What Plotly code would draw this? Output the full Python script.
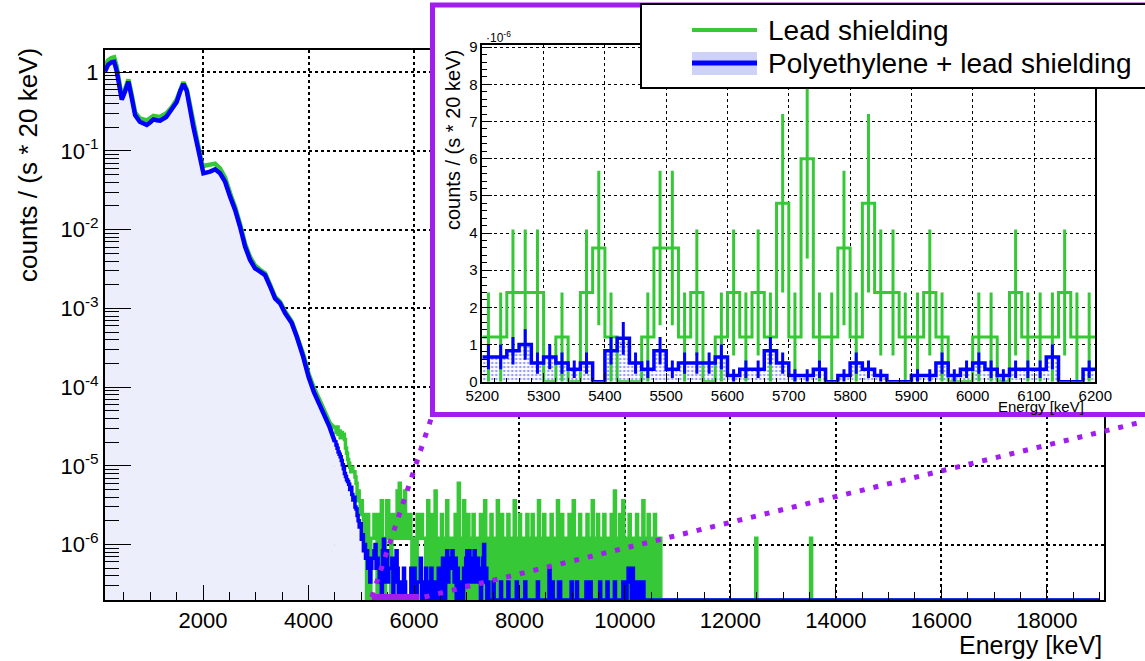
import numpy as np
import plotly.graph_objects as go

W, H = 1145, 661
FONT = "Liberation Sans"
GREEN = "#36c836"
BLUE = "#0000ff"
PURPLE = "#a21ef0"
LAVENDER = "#eceffb"

# ---------------- data ----------------
# smooth low-energy part of both spectra, counts / (s * 20 keV)
smooth_energy = [140, 200, 260, 313, 360, 420, 458, 520, 584, 640, 711, 800, 932, 1000, 1058,
                 1120, 1185, 1300, 1406, 1500, 1570, 1627, 1690, 1722, 1817, 1911, 1975, 2006,
                 2133, 2228, 2322, 2417, 2512, 2607, 2701, 2796, 2891, 2986, 3081, 3175, 3270,
                 3365, 3460, 3555, 3681, 3776, 3900, 4000, 4100, 4200, 4300, 4400, 4500]
smooth_lead = [1.20, 1.42, 1.52, 1.55, 1.20, 0.63, 0.48, 0.61, 0.81, 0.54, 0.31, 0.26, 0.245,
               0.262, 0.28, 0.275, 0.272, 0.30, 0.36, 0.45, 0.62, 0.75, 0.61, 0.47, 0.22, 0.115,
               0.070, 0.0645, 0.066, 0.069, 0.060, 0.046, 0.029, 0.0195, 0.0118, 0.0066, 0.0045,
               0.0035, 0.0031, 0.0028, 0.0020, 0.0014, 0.00121, 0.00091, 0.00068, 0.00046,
               0.00026, 0.000148, 0.000097, 0.000070, 0.000048, 0.000035, 0.000030]
smooth_poly = [1.02, 1.25, 1.34, 1.36, 1.05, 0.58, 0.45, 0.57, 0.76, 0.50, 0.286, 0.235, 0.214,
               0.232, 0.252, 0.246, 0.243, 0.27, 0.332, 0.42, 0.58, 0.71, 0.58, 0.44, 0.20, 0.103,
               0.060, 0.052, 0.0546, 0.0585, 0.052, 0.0407, 0.0263, 0.0178, 0.0109, 0.0061,
               0.00412, 0.00323, 0.00293, 0.00265, 0.0019, 0.00134, 0.00116, 0.00087, 0.00065,
               0.00044, 0.00024, 0.000135, 0.000087, 0.000062, 0.000044, 0.000031, 0.000020]

BIN = 20                 # keV per bin
LEAD_UNIT = 1.2e-6       # one count, lead shielding run
POLY_UNIT = 1e-6 / 6     # one count, polyethylene + lead run

# binned counts (20 keV bins)
lead_counts_4500_5200 = [25, 22, 26, 21, 23, 19, 22, 20, 21, 18, 14, 12, 10, 9, 8, 7, 8, 7, 7, 6,
                         5, 3, 4, 3, 2, 3, 2, 1, 2, 1, 0, 2, 1, 0, 1]
poly_counts_4500_5200 = [120, 110, 100, 90, 84, 78, 70, 62, 55, 48, 44, 40, 38, 35, 30, 32, 26,
                         22, 24, 18, 17, 14, 12, 10, 11, 7, 8, 5, 6, 4, 5, 3, 4, 2, 3]
lead_counts_5200_6200 = [1, 1, 2, 2, 2, 0, 1, 0, 2, 3, 1, 0, 0, 1, 3, 3, 1, 2, 0, 1, 2, 1, 2, 1, 4,
                         1, 5, 1, 1, 3, 1, 4, 2, 2, 1, 1, 2, 1, 0, 0, 1, 1, 0, 2, 1, 1, 1, 2, 1, 1]
poly_counts_5200_6200 = [4, 4, 5, 6, 3, 4, 3, 2, 3, 0, 5, 7, 3, 2, 5, 2, 3, 3, 3, 4, 1, 2, 2, 5, 3,
                         1, 1, 2, 0, 1, 3, 2, 1, 0, 0, 1, 1, 3, 1, 2, 3, 2, 1, 2, 2, 2, 4, 0, 0, 2]
lead_counts_6200_10700 = [
    1, 0, 1, 3, 0, 1, 2, 0, 1, 0, 4, 1, 0, 1, 1, 0, 2, 0, 1, 1, 0, 3, 1, 0, 1,
    0, 1, 1, 0, 2, 1, 0, 5, 1, 0, 1, 0, 3, 1, 0, 1, 2, 0, 1, 1, 0, 2, 1, 0, 1,
    1, 0, 1, 2, 0, 1, 0, 3, 1, 1, 0, 1, 0, 2, 1, 0, 1, 1, 0, 3, 0, 1, 0, 2, 1,
    0, 1, 0, 1, 2, 0, 1, 1, 0, 1, 3, 0, 1, 0, 1, 2, 0, 1, 0, 1, 1, 0, 2, 0, 1,
    1, 0, 2, 1, 0, 1, 0, 1, 3, 0, 1, 1, 0, 2, 0, 1, 0, 1, 1, 0, 2, 1, 0, 1, 0,
    1, 3, 0, 1, 0, 2, 1, 0, 1, 1, 0, 1, 2, 0, 1, 0, 3, 1, 0, 1, 0, 1, 2, 0, 1,
    0, 1, 1, 0, 2, 0, 1, 0, 1, 3, 0, 1, 1, 0, 2, 1, 0, 1, 0, 1, 2, 0, 1, 1, 0,
    1, 0, 2, 1, 0, 4, 1, 0, 1, 0, 2, 1, 0, 3, 1, 0, 1, 1, 0, 2, 0, 1, 0, 1, 1,
    0, 2, 1, 0, 1, 1, 0, 3, 1, 0, 1, 0, 2, 1, 0, 1, 1, 0, 2, 0, 1, 0, 1, 1, 0]
poly_counts_6200_10500 = [
    2, 3, 1, 2, 0, 1, 3, 2, 1, 0, 2, 1, 1, 3, 0, 2, 1, 4, 2, 1, 3, 5, 2, 4, 3,
    4, 5, 3, 2, 4, 1, 3, 2, 0, 1, 2, 1, 3, 2, 4, 5, 2, 5, 3, 4, 2, 4, 5, 3, 2,
    4, 3, 2, 1, 3, 4, 6, 2, 3, 1, 2, 0, 1, 0, 1, 2, 0, 0, 1, 0, 1, 0, 2, 1, 0,
    1, 0, 0, 1, 2, 0, 1, 0, 0, 1, 0, 1, 2, 1, 0, 1, 0, 0, 1, 0, 2, 1, 0, 1, 0,
    1, 0, 0, 1, 0, 1, 0, 2, 1, 0, 1, 1, 0, 0, 0, 1, 0, 1, 3, 1, 0, 2, 0, 1, 0,
    1, 0, 2, 2, 1, 0, 1, 0, 1, 0, 1, 0, 1, 0, 2, 0, 1, 0, 1, 2, 0, 1, 0, 1, 0,
    0, 1, 0, 2, 1, 0, 0, 2, 0, 1, 0, 1, 0, 0, 1, 0, 2, 1, 0, 1, 0, 0, 1, 2, 1,
    0, 1, 1, 0, 1, 2, 0, 1, 0, 0, 1, 0, 1, 2, 2, 1, 0, 2, 3, 2, 3, 1, 3, 2, 0,
    1, 2, 0, 1, 0, 2, 0, 2, 1, 0, 1, 0, 1, 0, 0]
lead_single_count_bins = [12480, 13520]   # keV, one count each

main_xticks_step = 2000
main_yticks = [1e-6, 1e-5, 1e-4, 1e-3, 1e-2, 1e-1, 1]
main_yticktext = ["10<sup>-6</sup>", "10<sup>-5</sup>", "10<sup>-4</sup>", "10<sup>-3</sup>",
                  "10<sup>-2</sup>", "10<sup>-1</sup>", "1"]

legend_labels = ["Lead shielding", "Polyethylene + lead shielding"]

# ---------------- geometry ----------------
X_RANGE = [140, 19090]
LOG_RANGE = [-6.705, 0.283]
YMIN = 10 ** LOG_RANGE[0]
MAIN_PX = (105, 1104.3, 50, 600)      # left, right, top, bottom in px
INSET_PX = (482.3, 1095.3, 45, 381.7)
BOX_PX = (432.5, 1160, 5, 414.5)

def px(x):
    return x / W

def py(y):
    return 1 - y / H

def e2px(e):
    l, r = MAIN_PX[0], MAIN_PX[1]
    return l + (e - X_RANGE[0]) / (X_RANGE[1] - X_RANGE[0]) * (r - l)

# ---------------- build histograms ----------------
START = 4500
END = 19000
edges = np.arange(START, END + BIN, BIN)
nb = len(edges) - 1
lead_n = np.zeros(nb)
poly_n = np.zeros(nb)

def put(arr, start, vals):
    i = (start - START) // BIN
    arr[i:i + len(vals)] = vals

put(lead_n, 4500, lead_counts_4500_5200)
put(lead_n, 5200, lead_counts_5200_6200)
put(lead_n, 6200, lead_counts_6200_10700)
put(poly_n, 4500, poly_counts_4500_5200)
put(poly_n, 5200, poly_counts_5200_6200)
put(poly_n, 6200, poly_counts_6200_10500)
for e in lead_single_count_bins:
    lead_n[(e - START) // BIN] = 1

lead_v = np.maximum(lead_n * LEAD_UNIT, YMIN)
poly_v = np.maximum(poly_n * POLY_UNIT, YMIN)
lead_step = np.append(lead_v, lead_v[-1])
poly_step = np.append(poly_v, poly_v[-1])

fig = go.Figure()
skip = dict(hoverinfo="skip", showlegend=False)

# main: lavender fill under polyethylene spectrum
fig.add_trace(go.Scatter(x=[smooth_energy[0], smooth_energy[-1]], y=[YMIN, YMIN], mode="lines",
                         line=dict(width=0), **skip))
fig.add_trace(go.Scatter(x=smooth_energy, y=np.maximum(smooth_poly, YMIN), mode="lines",
                         line=dict(width=0), fill="tonexty", fillcolor=LAVENDER, **skip))
fig.add_trace(go.Scatter(x=[START, END], y=[YMIN, YMIN], mode="lines", line=dict(width=0), **skip))
fig.add_trace(go.Scatter(x=edges, y=poly_step, mode="lines", line=dict(width=0, shape="hv"),
                         fill="tonexty", fillcolor=LAVENDER, **skip))
# main: lines
fig.add_trace(go.Scatter(x=smooth_energy, y=smooth_lead, mode="lines",
                         line=dict(color=GREEN, width=4.5), **skip))
fig.add_trace(go.Scatter(x=edges, y=lead_step, mode="lines",
                         line=dict(color=GREEN, width=3.5, shape="hv"), **skip))
fig.add_trace(go.Scatter(x=smooth_energy, y=smooth_poly, mode="lines",
                         line=dict(color=BLUE, width=4.5), **skip))
fig.add_trace(go.Scatter(x=edges, y=poly_step, mode="lines",
                         line=dict(color=BLUE, width=3.5, shape="hv"), **skip))

# cover subplot (white background of inset box)
fig.add_trace(go.Scatter(x=[None], y=[None], xaxis="x2", yaxis="y2", **skip))

# inset
in_edges = np.arange(5200, 6200 + BIN, BIN)
in_cent = in_edges[:-1] + BIN / 2
lead_in = np.array(lead_counts_5200_6200, dtype=float)
poly_in = np.array(poly_counts_5200_6200, dtype=float)
lead_in_v = lead_in * LEAD_UNIT * 1e6
poly_in_v = poly_in * POLY_UNIT * 1e6
lead_in_err = np.sqrt(lead_in) * LEAD_UNIT * 1e6
poly_in_err = np.sqrt(poly_in) * POLY_UNIT * 1e6

fig.add_trace(go.Scatter(x=in_edges, y=np.append(poly_in_v, poly_in_v[-1]), mode="lines",
                         line=dict(width=0, shape="hv"), fill="tozeroy",
                         fillcolor="rgba(255,255,255,0)",
                         fillpattern=dict(shape=".", fgcolor="#3344ff", bgcolor="rgba(255,255,255,0)",
                                          size=4, solidity=0.35),
                         xaxis="x3", yaxis="y3", **skip))
fig.add_trace(go.Scatter(x=in_edges, y=np.append(lead_in_v, lead_in_v[-1]), mode="lines",
                         line=dict(color=GREEN, width=3, shape="hv"), xaxis="x3", yaxis="y3", **skip))
m = lead_in > 0
fig.add_trace(go.Scatter(x=in_cent[m], y=lead_in_v[m], mode="markers", marker=dict(size=1, color=GREEN),
                         error_y=dict(type="data", array=lead_in_err[m], color=GREEN, thickness=3, width=0),
                         xaxis="x3", yaxis="y3", **skip))
fig.add_trace(go.Scatter(x=in_edges, y=np.append(poly_in_v, poly_in_v[-1]), mode="lines",
                         line=dict(color=BLUE, width=3.5, shape="hv"), xaxis="x3", yaxis="y3", **skip))
m = poly_in > 0
fig.add_trace(go.Scatter(x=in_cent[m], y=poly_in_v[m], mode="markers", marker=dict(size=1, color=BLUE),
                         error_y=dict(type="data", array=poly_in_err[m], color=BLUE, thickness=3, width=0),
                         xaxis="x3", yaxis="y3", **skip))

axis_common = dict(showline=True, mirror=True, linecolor="black", zeroline=False,
                   gridcolor="black", griddash="dot", showgrid=True, automargin=False,
                   ticks="inside", tickcolor="black")

fig.update_layout(
    width=W, height=H, margin=dict(l=0, r=0, t=0, b=0),
    paper_bgcolor="white", plot_bgcolor="white", showlegend=False,
    font=dict(family=FONT, color="black"),
    xaxis=dict(axis_common, domain=[px(MAIN_PX[0]), px(MAIN_PX[1])], range=X_RANGE, anchor="y",
               tick0=0, dtick=main_xticks_step, tickformat="d", ticklen=15, linewidth=2,
               gridwidth=1.5, tickfont=dict(size=22, family=FONT),
               minor=dict(tick0=0, dtick=500, ticks="inside", ticklen=8, tickcolor="black")),
    yaxis=dict(axis_common, domain=[py(MAIN_PX[3]), py(MAIN_PX[2])], type="log", range=LOG_RANGE,
               anchor="x", tickmode="array", tickvals=main_yticks, ticktext=main_yticktext,
               ticklen=26, linewidth=2, gridwidth=1.5, tickfont=dict(size=22, family=FONT),
               minor=dict(dtick="D1", ticks="inside", ticklen=14, tickcolor="black")),
    xaxis2=dict(domain=[px(BOX_PX[0]), 1.0], range=[0, 1], visible=False, anchor="y2"),
    yaxis2=dict(domain=[py(BOX_PX[3]), py(BOX_PX[2])], range=[0, 1], visible=False, anchor="x2"),
    xaxis3=dict(axis_common, domain=[px(INSET_PX[0]), px(INSET_PX[1])], range=[5200, 6200],
                anchor="y3", tick0=5200, dtick=100, tickformat="d", ticklen=9, linewidth=1.5,
                gridwidth=1, tickfont=dict(size=15, family=FONT),
                minor=dict(dtick=20, ticks="inside", ticklen=4, tickcolor="black")),
    yaxis3=dict(axis_common, domain=[py(INSET_PX[3]), py(INSET_PX[2])], range=[0, 9.06],
                anchor="x3", tick0=0, dtick=1, ticklen=10, linewidth=1.5, gridwidth=1,
                tickfont=dict(size=15, family=FONT),
                minor=dict(dtick=0.2, ticks="inside", ticklen=5, tickcolor="black")),
)

shapes = []
dotted = dict(color=PURPLE, width=5, dash="5px,9px")
# zoom guide lines
shapes.append(dict(type="line", xref="paper", yref="paper", x0=px(e2px(5200)), y0=py(597),
                   x1=px(BOX_PX[0]), y1=py(BOX_PX[3]), line=dotted, layer="above"))
shapes.append(dict(type="line", xref="paper", yref="paper", x0=px(e2px(6200)), y0=py(597),
                   x1=px(1150), y1=py(420), line=dotted, layer="above"))
shapes.append(dict(type="line", xref="paper", yref="paper", x0=px(e2px(5200)), y0=py(597),
                   x1=px(e2px(6100)), y1=py(597), line=dict(color=PURPLE, width=6), layer="above"))
# inset box
shapes.append(dict(type="rect", xref="paper", yref="paper", x0=px(BOX_PX[0]), x1=px(BOX_PX[1]),
                   y0=py(BOX_PX[3]), y1=py(BOX_PX[2]), line=dict(color=PURPLE, width=5),
                   fillcolor="rgba(0,0,0,0)", layer="above"))
# legend
shapes.append(dict(type="rect", xref="paper", yref="paper", x0=px(641), x1=px(1160), y0=py(88),
                   y1=py(4), line=dict(color="black", width=2), fillcolor="white", layer="above"))
shapes.append(dict(type="line", xref="paper", yref="paper", x0=px(692), x1=px(757), y0=py(30),
                   y1=py(30), line=dict(color=GREEN, width=4), layer="above"))
shapes.append(dict(type="rect", xref="paper", yref="paper", x0=px(692), x1=px(757), y0=py(75),
                   y1=py(52), line=dict(width=0), fillcolor="#cdd2f6", layer="above"))
shapes.append(dict(type="line", xref="paper", yref="paper", x0=px(692), x1=px(757), y0=py(63),
                   y1=py(63), line=dict(color=BLUE, width=5), layer="above"))
fig.update_layout(shapes=shapes)

ann = []
ann.append(dict(text="Energy [keV]", xref="paper", yref="paper", x=px(1104), y=py(645),
                xanchor="right", yanchor="middle", showarrow=False, font=dict(size=25, family=FONT)))
ann.append(dict(text="counts / (s * 20 keV)", xref="paper", yref="paper", x=px(28), y=py(165),
                xanchor="center", yanchor="middle", textangle=-90, showarrow=False,
                font=dict(size=26, family=FONT)))
ann.append(dict(text="counts / (s * 20 keV)", xref="paper", yref="paper", x=px(453), y=py(140),
                xanchor="center", yanchor="middle", textangle=-90, showarrow=False,
                font=dict(size=20, family=FONT)))
ann.append(dict(text="Energy [keV]", xref="paper", yref="paper", x=px(1086), y=py(406),
                xanchor="right", yanchor="middle", showarrow=False, font=dict(size=15, family=FONT)))
ann.append(dict(text="·10<sup>-6</sup>", xref="paper", yref="paper", x=px(484), y=py(37),
                xanchor="left", yanchor="middle", showarrow=False, font=dict(size=12, family=FONT)))
ann.append(dict(text=legend_labels[0], xref="paper", yref="paper", x=px(766), y=py(30),
                xanchor="left", yanchor="middle", showarrow=False, font=dict(size=28, family=FONT)))
ann.append(dict(text=legend_labels[1], xref="paper", yref="paper", x=px(766), y=py(63),
                xanchor="left", yanchor="middle", showarrow=False, font=dict(size=28, family=FONT)))
fig.update_layout(annotations=ann)

fig.write_html("out.html", config={"displayModeBar": False},
               post_script="document.body.style.margin='0px';")
